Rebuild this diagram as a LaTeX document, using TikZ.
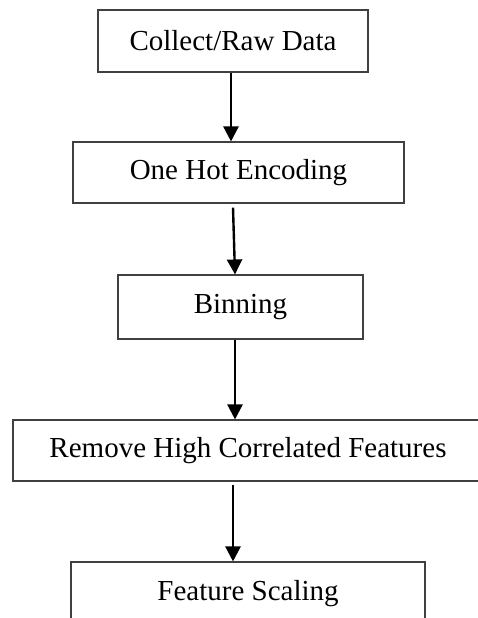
\documentclass[tikz,border=0pt]{standalone}
\usepackage{fontspec}
\setmainfont{Liberation Serif}
\usetikzlibrary{arrows.meta}
\begin{document}
\begin{tikzpicture}[x=1pt,y=-1pt,
  box/.style={draw=black!75,line width=1.1pt,rectangle,inner sep=0pt,
    font=\fontsize{29}{34}\selectfont},
  arr/.style={line width=2.4pt,-{Triangle[width=15pt,length=15pt]}}]
\useasboundingbox (0,0) rectangle (477,618);
\fill[white] (0,0) rectangle (477,618);
\node[box,minimum width=270pt,minimum height=62pt] (b1) at (233,41) {Collect/Raw Data};
\node[box,minimum width=331pt,minimum height=61pt] (b2) at (238.5,172.5) {One Hot Encoding};
\node[box,minimum width=245pt,minimum height=64pt] (b3) at (240.5,307) {Binning};
\node[box,minimum width=470pt,minimum height=61pt] (b4) at (248,450.5) {Remove High Correlated Features};
\node[box,minimum width=354pt,minimum height=63pt] (b5) at (248,593.5) {Feature Scaling};
\draw[arr] ([xshift=-2pt]b1.south) -- ([xshift=-7.5pt]b2.north);
\draw[arr] ([xshift=-5.5pt,yshift=-4pt]b2.south) -- ([xshift=-5.5pt]b3.north);
\draw[arr] ([xshift=-5.5pt]b3.south) -- ([xshift=-13pt]b4.north);
\draw[arr] ([xshift=-15pt,yshift=-3pt]b4.south) -- ([xshift=-15pt]b5.north);
\end{tikzpicture}
\end{document}
